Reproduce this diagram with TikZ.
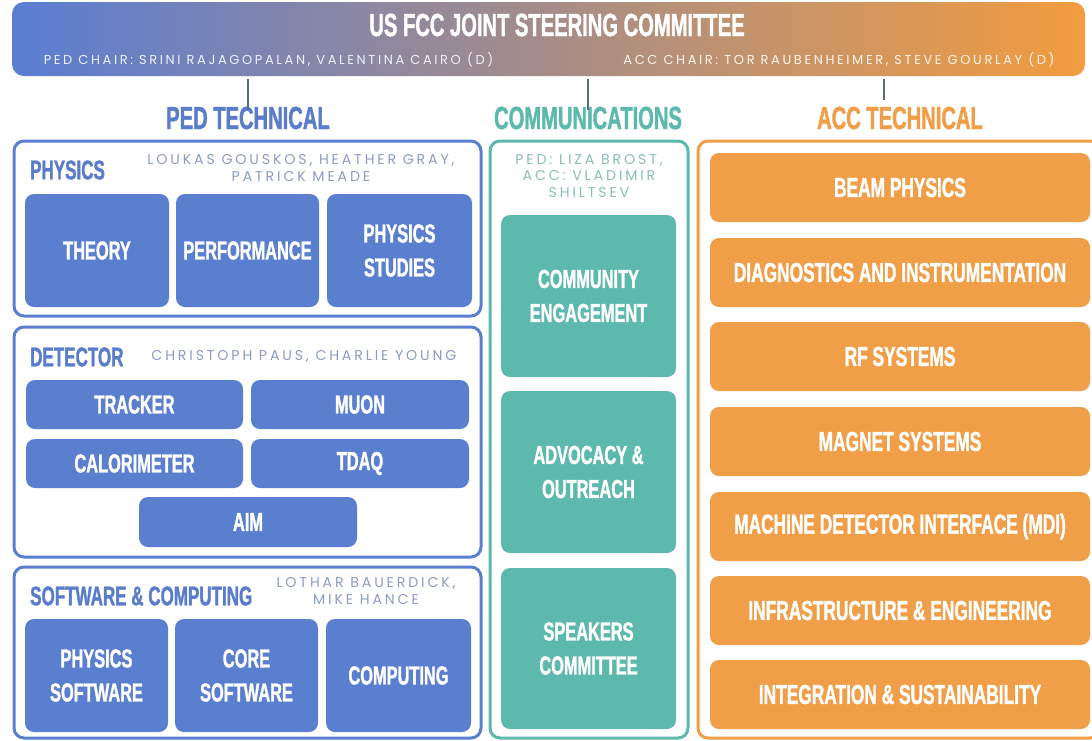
\documentclass[tikz,border=0pt]{standalone}
\usepackage{fontspec}
\newfontfamily\cond[FakeStretch=0.63, BoldFeatures={FakeBold=1.2}]{Liberation Sans}
\newfontfamily\spaced[LetterSpace=20]{Poppins}
\definecolor{pblue}{HTML}{5B7FCF}
\definecolor{tblue}{HTML}{5A7DCB}
\definecolor{teal}{HTML}{5DB9AD}
\definecolor{orng}{HTML}{F09E47}
\definecolor{hblue}{HTML}{5A7DD3}
\definecolor{horng}{HTML}{F29C3E}
\definecolor{nblue}{HTML}{8D9CC6}
\definecolor{nteal}{HTML}{8ABFB6}
\definecolor{lgrey}{HTML}{5A6B8C}
\tikzset{
  frame/.style={draw=#1, line width=3pt, rounded corners=10pt, inner sep=0pt, fill=white},
  box/.style={fill=#1, rounded corners=9pt, text=white, align=center, inner sep=0pt,
    font=\cond\bfseries\fontsize{26}{34}\selectfont},
  accbox/.style={box=orng, minimum width=380pt, minimum height=69pt,
    font=\cond\bfseries\fontsize{27.5}{34}\selectfont},
  ftitle/.style={anchor=west, text=tblue, inner sep=0pt, font=\cond\bfseries\fontsize{27}{30}\selectfont},
  names/.style={text=#1, align=center, inner sep=0pt, font=\spaced\fontsize{14.2}{16.5}\selectfont},
  chair/.style={text=#1, inner sep=0pt, font=\spaced\fontsize{13}{16}\selectfont},
  stitle/.style={text=#1, inner sep=0pt, font=\cond\bfseries\fontsize{32}{36}\selectfont},
  link/.style={draw=lgrey, line width=1.8pt},
}
\begin{document}
\begin{tikzpicture}[x=1pt,y=-1pt]
\useasboundingbox[fill=white] (0,0) rectangle (1092,740);
% header
\node[rounded corners=12pt, left color=hblue, right color=horng, minimum width=1073pt, minimum height=74pt, inner sep=0pt] (hdr) at (548.5,39) {};
\node[text=white, inner sep=0pt, font=\cond\bfseries\fontsize{32}{36}\selectfont] (htitle) at (557,25) {US FCC JOINT STEERING COMMITTEE};
\node[chair=white!90!hblue] (pedchair) at (268.5,60) {PED CHAIR: SRINI RAJAGOPALAN, VALENTINA CAIRO (D)};
\node[chair=white!90!horng] (accchair) at (839,60) {ACC CHAIR: TOR RAUBENHEIMER, STEVE GOURLAY (D)};
% section titles
\node[stitle=tblue] (pedt) at (248,118) {PED TECHNICAL};
\node[stitle=teal] (comt) at (588,118) {COMMUNICATIONS};
\node[stitle=orng] (acct) at (900,118) {ACC TECHNICAL};
\coordinate (acclink) at (884,100);
\draw[link] (hdr.south -| pedt.north) ++(0,3) -- ([yshift=-4pt]pedt.north);
\draw[link] (hdr.south -| comt.north) ++(0,3) -- ([yshift=-4pt]comt.north);
\draw[link] (hdr.south -| acclink) ++(0,3) -- (acclink);
% physics
\node[frame=pblue, minimum width=467pt, minimum height=175pt] (physf) at (247.5,228.5) {};
\node[ftitle] (physt) at (30,170) {PHYSICS};
\node[names=nblue] (physn) at (301,168) {LOUKAS GOUSKOS, HEATHER GRAY,\\PATRICK MEADE};
\node[box=pblue, minimum width=144pt, minimum height=113pt] (theory) at (97,250.5) {THEORY};
\node[box=pblue, minimum width=143pt, minimum height=113pt] (perf) at (247.5,250.5) {PERFORMANCE};
\node[box=pblue, minimum width=145pt, minimum height=113pt] (pstud) at (399.5,250.5) {PHYSICS\\STUDIES};
% detector
\node[frame=pblue, minimum width=467pt, minimum height=230pt] (detf) at (247.5,442) {};
\node[ftitle] (dett) at (30,357) {DETECTOR};
\node[names=nblue] (detn) at (304,356) {CHRISTOPH PAUS, CHARLIE YOUNG};
\node[box=pblue, minimum width=217pt, minimum height=49pt] (tracker) at (134.5,404.5) {TRACKER};
\node[box=pblue, minimum width=218pt, minimum height=49pt] (muon) at (360,404.5) {MUON};
\node[box=pblue, minimum width=217pt, minimum height=49pt] (calo) at (134.5,463.5) {CALORIMETER};
\node[box=pblue, minimum width=218pt, minimum height=49pt] (tdaq) at (360,463.5) {TDAQ};
\node[box=pblue, minimum width=218pt, minimum height=50pt] (aim) at (248,522) {AIM};
% software
\node[frame=pblue, minimum width=467pt, minimum height=171pt] (swf) at (247.5,652.5) {};
\node[ftitle] (swt) at (30,596) {SOFTWARE \& COMPUTING};
\node[names=nblue] (swn) at (366,591) {LOTHAR BAUERDICK,\\MIKE HANCE};
\node[box=pblue, minimum width=143pt, minimum height=113pt] (physsw) at (96.5,675.5) {PHYSICS\\SOFTWARE};
\node[box=pblue, minimum width=143pt, minimum height=113pt] (coresw) at (246.5,675.5) {CORE\\SOFTWARE};
\node[box=pblue, minimum width=145pt, minimum height=113pt] (comp) at (398.5,675.5) {COMPUTING};
% communications
\node[frame=teal, minimum width=198pt, minimum height=597pt] (comf) at (589,439.5) {};
\node[names=nteal] (comn) at (589,176) {PED: LIZA BROST,\\ACC: VLADIMIR\\SHILTSEV};
\node[box=teal, minimum width=175pt, minimum height=162pt] (commeng) at (588.5,296) {COMMUNITY\\ENGAGEMENT};
\node[box=teal, minimum width=175pt, minimum height=162pt] (advo) at (588.5,472) {ADVOCACY \&\\OUTREACH};
\node[box=teal, minimum width=175pt, minimum height=161pt] (speak) at (588.5,648.5) {SPEAKERS\\COMMITTEE};
% acc
\node[frame=orng, minimum width=402pt, minimum height=597pt] (accf) at (899,439.5) {};
\node[accbox] (beam) at (900,187.5) {BEAM PHYSICS};
\node[accbox] (diag) at (900,272.5) {DIAGNOSTICS AND INSTRUMENTATION};
\node[accbox] (rf) at (900,356.5) {RF SYSTEMS};
\node[accbox] (magnet) at (900,441.5) {MAGNET SYSTEMS};
\node[accbox] (mdi) at (900,526.5) {MACHINE DETECTOR INTERFACE (MDI)};
\node[accbox] (infra) at (900,610.5) {INFRASTRUCTURE \& ENGINEERING};
\node[accbox] (integ) at (900,694.5) {INTEGRATION \& SUSTAINABILITY};
\end{tikzpicture}
\end{document}
